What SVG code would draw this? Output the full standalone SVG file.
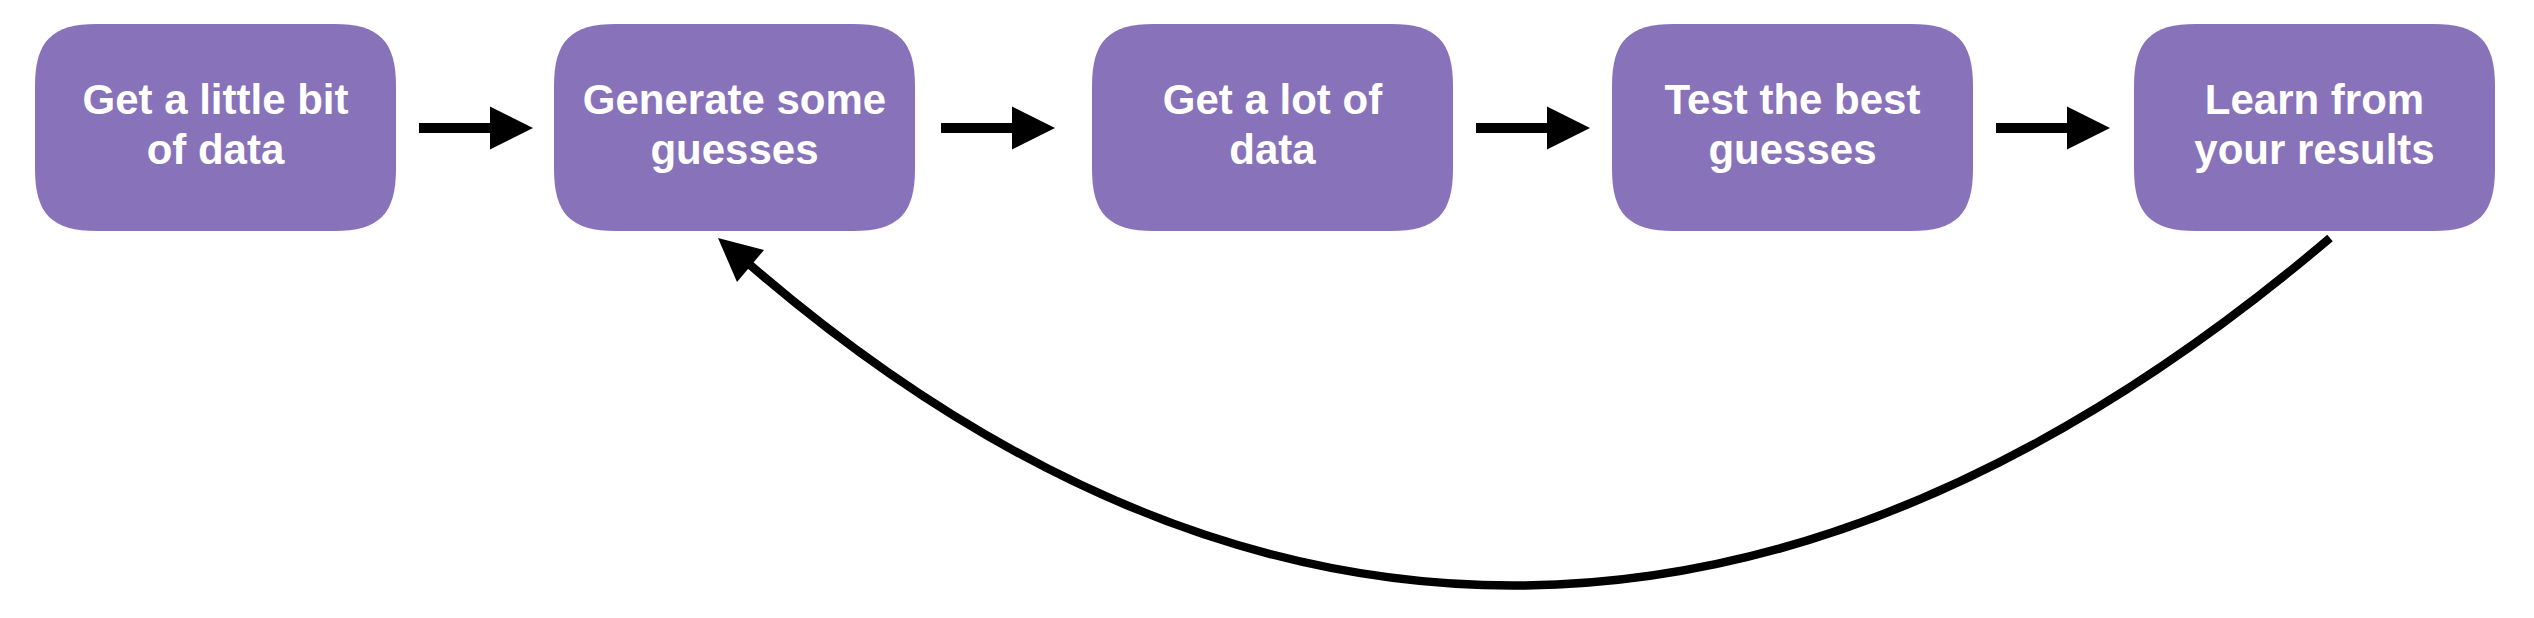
<svg xmlns="http://www.w3.org/2000/svg" xmlns:xlink="http://www.w3.org/1999/xlink" width="2534" height="618" viewBox="0 0 2534 618">
  <style>
    .box { fill: #8872B9; }
    .label { font-family: "Liberation Sans", Arial, Helvetica, sans-serif; font-weight: bold; font-size: 42px; fill: #ffffff; text-anchor: middle; }
    .head { fill: #000000; }
    .curve { fill: none; stroke: #000000; stroke-width: 8.5; stroke-linecap: butt; }
  </style>
  <defs>
    <path id="boxShape" class="box" d="M62,0 H299 C344,0 361,17 361,62 V145 C361,190 344,207 299,207 H62 C17,207 0,190 0,145 V62 C0,17 17,0 62,0 Z"/>
    <path id="straightArrow" class="head" d="M0,-5 H71 V-21.5 L114,0 L71,21.5 V5 H0 Z"/>
  </defs>
  <rect width="2534" height="618" fill="#ffffff"/>

  <g id="node1">
    <use xlink:href="#boxShape" href="#boxShape" x="35" y="24"/>
    <text class="label" x="215.5" y="114">Get a little bit</text>
    <text class="label" x="215.5" y="164">of data</text>
  </g>
  <g id="node2">
    <use xlink:href="#boxShape" href="#boxShape" x="554" y="24"/>
    <text class="label" x="734.5" y="114">Generate some</text>
    <text class="label" x="734.5" y="164">guesses</text>
  </g>
  <g id="node3">
    <use xlink:href="#boxShape" href="#boxShape" x="1092" y="24"/>
    <text class="label" x="1272.5" y="114">Get a lot of</text>
    <text class="label" x="1272.5" y="164">data</text>
  </g>
  <g id="node4">
    <use xlink:href="#boxShape" href="#boxShape" x="1612" y="24"/>
    <text class="label" x="1792.5" y="114">Test the best</text>
    <text class="label" x="1792.5" y="164">guesses</text>
  </g>
  <g id="node5">
    <use xlink:href="#boxShape" href="#boxShape" x="2134" y="24"/>
    <text class="label" x="2314.5" y="114">Learn from</text>
    <text class="label" x="2314.5" y="164">your results</text>
  </g>

  <g id="connectors">
    <use xlink:href="#straightArrow" href="#straightArrow" x="419" y="128"/>
    <use xlink:href="#straightArrow" href="#straightArrow" x="941" y="128"/>
    <use xlink:href="#straightArrow" href="#straightArrow" x="1476" y="128"/>
    <use xlink:href="#straightArrow" href="#straightArrow" x="1996" y="128"/>
    <path class="curve" d="M2330,238 C1790,697 1250,697 749,264"/>
    <polygon class="head" points="718,238 764,250 737,282"/>
  </g>
</svg>
